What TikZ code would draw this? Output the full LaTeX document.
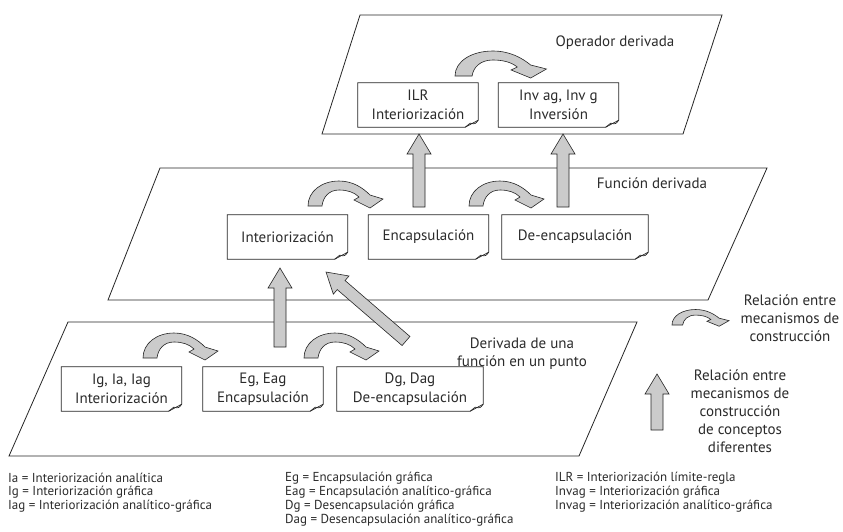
\documentclass[tikz,border=0pt]{standalone}
\usepackage{fontspec}
\setmainfont{PT Sans}
\usetikzlibrary{calc}
\definecolor{txt}{HTML}{2B2B2B}
\definecolor{arrfill}{HTML}{CBCBCB}
\definecolor{lin}{HTML}{262626}
\newcommand\dogear[1]{%
  \draw[boxline] (#1.north west) -- (#1.north east) -- ([yshift=7pt]#1.south east) -- ([xshift=-13pt]#1.south east) -- (#1.south west) -- cycle;
  \draw[boxline] ([yshift=7pt]#1.south east) .. controls ([xshift=-3pt,yshift=3pt]#1.south east) .. ([xshift=-8pt,yshift=4pt]#1.south east) .. controls ([xshift=-10pt,yshift=2pt]#1.south east) .. ([xshift=-13pt]#1.south east);
}
\begin{document}
\begin{tikzpicture}[x=1pt,y=-1pt,
  plane/.style={draw=lin, line width=0.8pt, fill=white},
  boxline/.style={draw=lin, line width=0.7pt},
  notebox/.style={minimum width=#1, minimum height=44pt, inner sep=0pt, align=center, font=\fontsize{15}{19}\selectfont, text=txt, fill=white},
  lbl/.style={font=\fontsize{15}{18}\selectfont, text=txt, align=center},
  leg/.style={font=\fontsize{13}{14}\selectfont, text=txt, anchor=west, inner sep=0pt},
  arrowfill/.style={fill=arrfill, draw=lin, line width=0.6pt, line join=miter},
  pics/curvarr/.style={code={\path[arrowfill] (0,0) .. controls (0,-15) and (14,-25) .. (31,-25) .. controls (45,-25) and (55,-18) .. (62,-11) -- (75,-7) -- (62,2) -- (46,-6) -- (51,-9) .. controls (46,-14) and (39,-16) .. (31,-16) .. controls (21,-16) and (15,-9) .. (14,0) -- cycle;}},
  pics/blockarr/.style={code={\path[arrowfill] (0,-6) -- ({#1-20},-6) -- ({#1-20},-12) -- (#1,0) -- ({#1-20},12) -- ({#1-20},6) -- (0,6) -- cycle;}}
]
\useasboundingbox (0,0) rectangle (843,531);
\fill[white] (0,0) rectangle (843,531);

% planes
\draw[plane] (68,322) -- (637,322) -- (579,456) -- (9,456) -- cycle;
\draw[plane] (160,168) -- (767,168) -- (708,300) -- (108,300) -- cycle;
\draw[plane] (360,15) -- (722,15) -- (683,134) -- (322,134) -- cycle;

% plane labels
\node[lbl] (op) at (615,43) {Operador derivada};
\node[lbl] (fd) at (652,183) {Función derivada};
\node[lbl] (dp) at (522,354) {Derivada de una\\función en un punto};

% boxes
\node[notebox=120pt] (ilr) at (418,105) {ILR\\Interiorización};
\node[notebox=120pt] (inv) at (558.5,105) {Inv ag, Inv g\\Inversión};
\node[notebox=120pt] (mi) at (287.5,237) {Interiorización};
\node[notebox=120pt] (me) at (428.5,237) {Encapsulación};
\node[notebox=146pt] (md) at (575,237) {De-encapsulación};
\node[notebox=120pt] (bi) at (121.5,389) {Ig, Ia, Iag\\Interiorización};
\node[notebox=120pt] (be) at (263,389) {Eg, Eag\\Encapsulación};
\node[notebox=146pt] (bd) at (410,389) {Dg, Dag\\De-encapsulación};
\dogear{ilr}\dogear{inv}\dogear{mi}\dogear{me}\dogear{md}\dogear{bi}\dogear{be}\dogear{bd}

% curved arrows
\pic at (308,206) {curvarr};
\pic at (469,206) {curvarr};
\pic at (143,358) {curvarr};
\pic at (304,358) {curvarr};
\pic[xscale=1.22,yscale=1.0] at (455,76) {curvarr};
\pic[xscale=0.76,yscale=0.62] at (672,325) {curvarr};

% block arrows
\coordinate (s1) at (419,207); \coordinate (t1) at (419,134);
\coordinate (s2) at (563,207); \coordinate (t2) at (563,134);
\coordinate (s3) at (280,347); \coordinate (t3) at (280,268);
\coordinate (s4) at (406,341); \coordinate (t4) at (326,272);
\coordinate (s5) at (657,430); \coordinate (t5) at (657,374);
\foreach \a/\b in {s1/t1,s2/t2,s3/t3,s4/t4,s5/t5}{
  \path let \p1=($(\b)-(\a)$), \n1={atan2(\y1,\x1)}, \n2={veclen(\x1,\y1)} in pic[rotate=\n1] at (\a) {blockarr=\n2};
}

% legend
\node[lbl] (rel1) at (790,318) {Relación entre\\mecanismos de\\construcción};
\node[lbl] (rel2) at (740,411) {Relación entre\\mecanismos de\\construcción\\de conceptos\\diferentes};

\node[leg] (l1) at (8,478) {Ia = Interiorización analítica};
\node[leg] (l2) at (8,492) {Ig = Interiorización gráfica};
\node[leg] (l3) at (8,506) {Iag = Interiorización analítico-gráfica};
\node[leg] (l4) at (285,478) {Eg = Encapsulación gráfica};
\node[leg] (l5) at (285,492) {Eag = Encapsulación analítico-gráfica};
\node[leg] (l6) at (285,506) {Dg = Desencapsulación gráfica};
\node[leg] (l7) at (285,520) {Dag = Desencapsulación analítico-gráfica};
\node[leg] (l8) at (555,478) {ILR = Interiorización límite-regla};
\node[leg] (l9) at (555,492) {Invag = Interiorización gráfica};
\node[leg] (l10) at (555,506) {Invag = Interiorización analítico-gráfica};
\end{tikzpicture}
\end{document}
